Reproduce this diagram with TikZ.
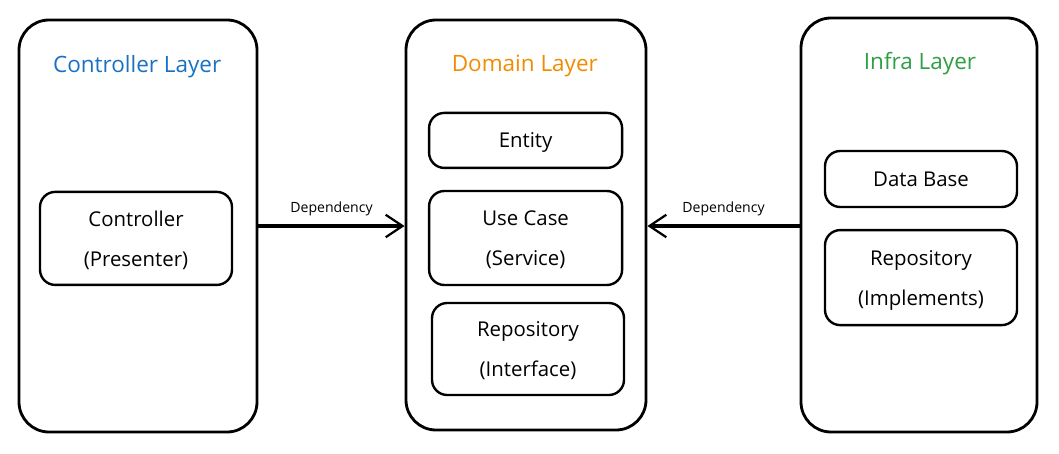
\documentclass[tikz,border=0pt]{standalone}
\usepackage{fontspec}
\setmainfont{Open Sans}
\usetikzlibrary{arrows.meta}
\definecolor{ctrlblue}{HTML}{1971C2}
\definecolor{domorange}{HTML}{F08C00}
\definecolor{infragreen}{HTML}{2F9E44}
\begin{document}
\begin{tikzpicture}[thick, layer box/.style={draw, rounded corners=0.75cm, line width=2pt}, part box/.style={draw, rounded corners=0.38cm, line width=1.7pt, align=center, text depth=-9pt, font=\fontsize{14.5}{28.5}\selectfont}, layer title/.style={font=\fontsize{16}{18}\selectfont}, dep/.style={-{Straight Barb[length=12pt,width=16pt,line width=1.6pt]}, line width=2.2pt}]
	\useasboundingbox (0,0) rectangle (26.475,-11.35);
	% layers
	\node[layer box, minimum width=5.95cm, minimum height=10.3cm] (ctrl) at (3.45,-5.65) {};
	\node[layer box, minimum width=6cm, minimum height=10.25cm] (domain) at (13.15,-5.625) {};
	\node[layer box, minimum width=5.9cm, minimum height=10.35cm] (infra) at (22.975,-5.625) {};
	\node[layer title, text=ctrlblue] (ctrltitle) at (3.43,-1.66) {Controller Layer};
	\node[layer title, text=domorange] (domaintitle) at (13.12,-1.64) {Domain Layer};
	\node[layer title, text=infragreen] (infratitle) at (23,-1.59) {Infra Layer};
	% parts
	\node[part box, minimum width=4.8cm, minimum height=2.325cm] (controller) at (3.4,-5.96) {Controller\\(Presenter)};
	\node[part box, minimum width=4.825cm, minimum height=1.375cm] (entity) at (13.14,-3.51) {Entity};
	\node[part box, minimum width=4.825cm, minimum height=2.35cm] (usecase) at (13.14,-5.95) {Use Case\\(Service)};
	\node[part box, minimum width=4.8cm, minimum height=2.3cm] (repoif) at (13.2,-8.725) {Repository\\(Interface)};
	\node[part box, minimum width=4.8cm, minimum height=1.4cm] (database) at (23.025,-4.475) {Data Base};
	\node[part box, minimum width=4.8cm, minimum height=2.375cm] (repoimpl) at (23.025,-6.94) {Repository\\(Implements)};
	\path[every node/.style={font=\fontsize{10}{11}\selectfont, above=3pt}]
		(ctrl.east) edge[dep] node {Dependency} (ctrl.east -| domain.west)
		(infra.west |- ctrl.east) edge[dep] node {Dependency} (ctrl.east -| domain.east);
\end{tikzpicture}
\end{document}
